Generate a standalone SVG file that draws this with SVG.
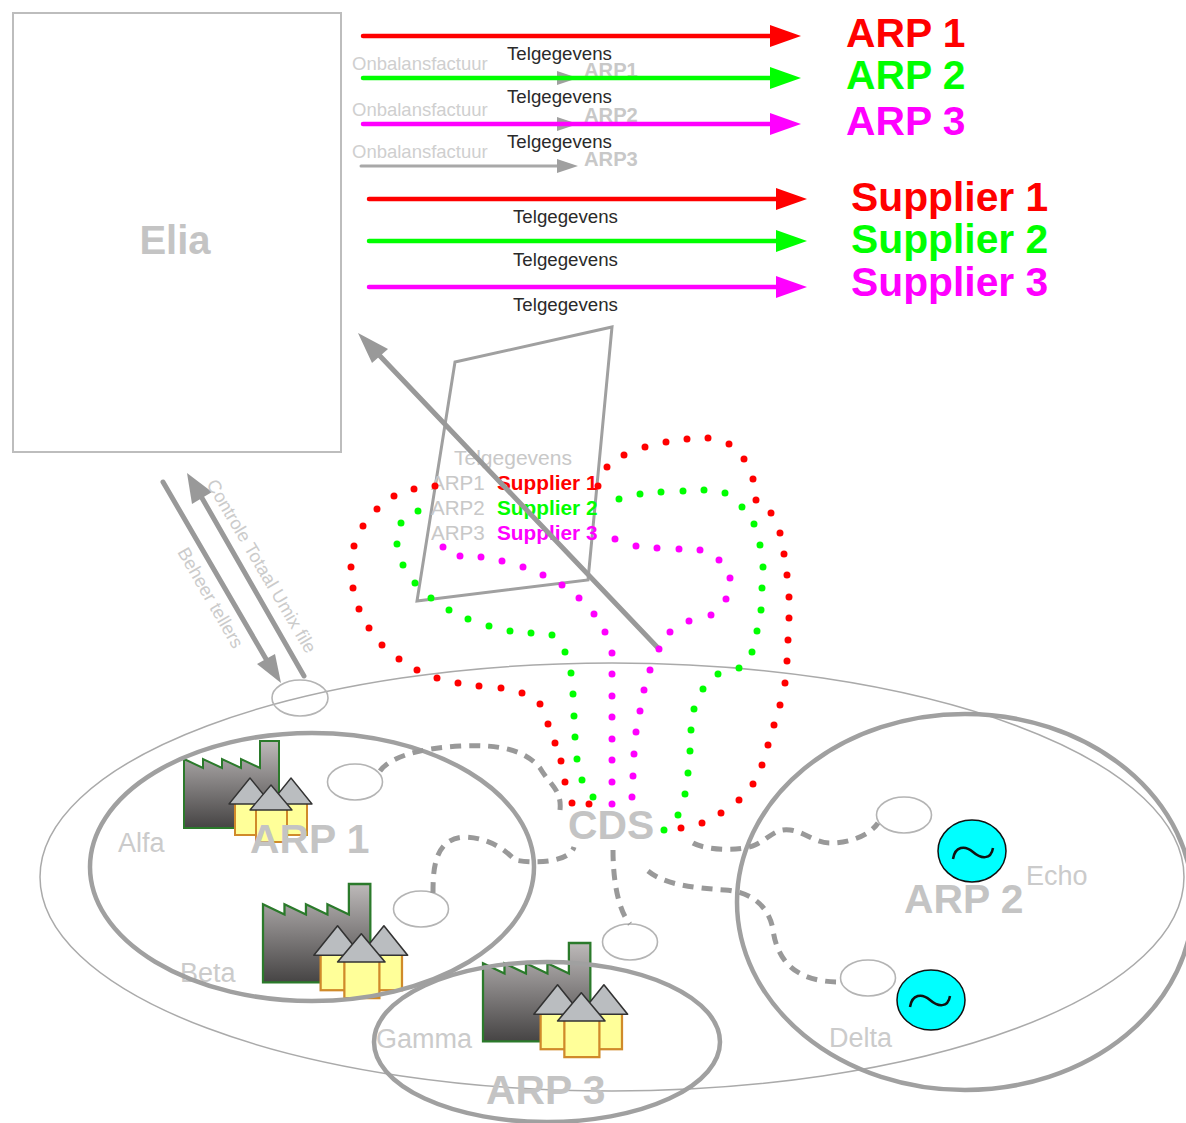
<svg xmlns="http://www.w3.org/2000/svg" xmlns:xlink="http://www.w3.org/1999/xlink" width="1186" height="1123" viewBox="0 0 1186 1123">
<style>
text{font-family:"Liberation Sans",Arial,sans-serif}
.g{fill:#c4c4c4}
.big{font-weight:bold;font-size:40.8px}
.t{font-size:18.7px;fill:#2a2a2a}
.o{font-size:18.5px;fill:#cfcfcf}
.a{font-size:20.2px;font-weight:bold;fill:#c8c8c8}
.m{font-size:20.6px;fill:#c8c8c8}
.s{font-size:20.8px;font-weight:bold}
.n{font-size:27px;fill:#cbcbcb}
.lab{font-size:18.3px;fill:#cbcbcb}
.line{fill:none;stroke-linecap:round}
.dash{fill:none;stroke:#999;stroke-width:5;stroke-dasharray:11 8}
.dots{fill:none;stroke-width:7;stroke-linecap:round}
.meter{fill:#fff;stroke:#b4b4b4;stroke-width:1.6}
.zone{fill:none;stroke:#a0a0a0;stroke-width:4.5}
.gen{fill:#00ffff;stroke:#111;stroke-width:1.5}
</style>
<defs>
<linearGradient id="fg" x1="0" y1="0" x2="0" y2="1"><stop offset="0" stop-color="#bdb9b9"/><stop offset="1" stop-color="#464444"/></linearGradient>
<g id="plant">
<path d="M184,759L203,768V759L222,768V759L241,768V759L260,768V741H279V828H184Z" fill="url(#fg)" stroke="#2b7a2b" stroke-width="2"/>
<g fill="#ffff99" stroke="#d08a2a" stroke-width="2"><rect x="235" y="803" width="30" height="32"/><rect x="278" y="803" width="29" height="32"/></g>
<g fill="#babdc0" stroke="#333" stroke-width="1.4" stroke-linejoin="round"><path d="M250,778L229,804H271Z"/><path d="M291,778L270,804H312Z"/></g>
<rect x="256" y="809" width="31" height="33" fill="#ffff99" stroke="#d08a2a" stroke-width="2"/>
<path d="M271,785L250,810H292Z" fill="#babdc0" stroke="#333" stroke-width="1.4" stroke-linejoin="round"/>
</g>
</defs>
<rect width="1186" height="1123" fill="#fff"/>

<g id="elia"><rect x="13" y="13" width="328" height="439" fill="#fff" stroke="#bdbdbd" stroke-width="2"/><text class="g" x="175" y="254" text-anchor="middle" font-weight="bold" font-size="40">Elia</text></g>

<g id="grid"><ellipse cx="612" cy="877" rx="572" ry="214" fill="none" stroke="#aaa" stroke-width="1.5"/></g>

<g id="plant-alfa"><use xlink:href="#plant"/><text class="n" x="118" y="852">Alfa</text></g>
<g id="plant-beta"><use xlink:href="#plant" transform="translate(263,884) scale(1.13) translate(-184,-741)"/><text class="n" x="180" y="982">Beta</text></g>
<g id="plant-gamma"><use xlink:href="#plant" transform="translate(483,943) scale(1.13) translate(-184,-741)"/><text class="n" x="376" y="1048">Gamma</text></g>

<g id="arp1-zone"><ellipse class="zone" cx="312" cy="867" rx="222" ry="134"/><text class="g big" x="250" y="853">ARP 1</text></g>
<g id="arp2-zone"><ellipse class="zone" cx="965" cy="902" rx="228" ry="188"/><text class="g big" x="904" y="913">ARP 2</text></g>
<g id="arp3-zone"><ellipse class="zone" cx="547" cy="1042" rx="173" ry="80"/><text class="g big" x="486" y="1104">ARP 3</text></g>

<g id="gen-echo"><ellipse class="gen" cx="972" cy="851" rx="34" ry="31"/><path d="M953,859C955,846 965,845 973,852C981,859 991,860 993,848" fill="none" stroke="#111" stroke-width="2.5"/><text class="n" x="1026" y="885">Echo</text></g>
<g id="gen-delta"><ellipse class="gen" cx="931" cy="1000" rx="34" ry="30"/><path d="M910,1007C912,994 922,993 930,1000C938,1007 948,1008 950,996" fill="none" stroke="#111" stroke-width="2.5"/><text class="n" x="829" y="1047">Delta</text></g>

<g id="meters">
<ellipse class="meter" cx="300" cy="698" rx="28" ry="18" fill-opacity="0"/>
<ellipse class="meter" cx="355" cy="782" rx="27.5" ry="18"/>
<ellipse class="meter" cx="421" cy="909" rx="27.5" ry="18"/>
<ellipse class="meter" cx="630" cy="942" rx="27.5" ry="18"/>
<ellipse class="meter" cx="904" cy="815" rx="27.5" ry="18"/>
<ellipse class="meter" cx="868" cy="978" rx="27.5" ry="18"/>
</g>

<g id="telgegevens-note" >
<path d="M455,362L612,327L588,580L417,601Z" fill="none" stroke="#a0a0a0" stroke-width="3"/>
<text class="m" x="454" y="465" font-size="21" style="font-size:21px">Telgegevens</text>
<text class="m" x="431" y="490">ARP1</text><text class="m" x="431" y="515">ARP2</text><text class="m" x="431" y="540">ARP3</text>
<text class="s" x="497" y="490" fill="#ff0000">Supplier 1</text>
<text class="s" x="497" y="515" fill="#00ff00">Supplier 2</text>
<text class="s" x="497" y="540" fill="#ff00ff">Supplier 3</text>
</g>

<g id="connectors">
<g id="dashed">
<path class="dash" d="M380,771C390,757 420,748 460,746C500,744 525,750 540,768C550,785 562,790 560,810"/>
<path class="dash" d="M433,893C433,870 434,838 465,837C490,838 505,850 515,860C535,864 570,862 574,847"/>
<path class="dash" d="M613,850C613,880 618,910 630,924"/>
<path class="dash" d="M693,843C705,850 740,852 755,845C770,838 775,828 790,830C805,832 815,843 830,843C850,843 870,835 878,823"/>
<path class="dash" d="M648,871C665,885 695,888 725,890C755,892 770,910 773,930C778,965 800,982 840,982"/>
</g>
<g id="grey-arrows" fill="#999">
<path class="line" stroke="#999" stroke-width="5" d="M659,649L380,356"/><path d="M358,333L388,349L372,363Z"/>
<path class="line" stroke="#999" stroke-width="5" d="M163,482L266,659"/><path d="M281,683L257,664L275,654Z"/>
<path class="line" stroke="#999" stroke-width="5" d="M304,676L202,498"/><path d="M187,473L212,492L192,504Z"/>
<path class="line" stroke="#a8a8a8" stroke-width="3" d="M365,78H558M365,124H558M361,166H558"/>
<path fill="#a0a0a0" d="M557,71L578,78L557,85ZM557,117L578,124L557,131ZM557,159L578,166L557,173Z"/>
</g>
<g id="dotted">
<path class="dots" stroke="#ff0000" d="M589,804h0M572,803h0M565,782h0M561,761h0M555,743h0M548,724h0M540,704h0M522,693h0M501,688h0M479,686h0M458,683h0M437,678h0M417,670h0M399,659h0M382,645h0M369,628h0M359,609h0M353,588h0M351,567h0M354,546h0M363,526h0M377,509h0M394,496h0M414,489h0M435,486h0M598,486h0M607,467h0M624,455h0M645,447h0M666,442h0M687,439h0M708,438h0M729,444h0M744,459h0M753,479h0M756,500h0M771,513h0M780,533h0M784,554h0M787,575h0M789,597h0M789,618h0M788,640h0M787,661h0M785,683h0M780,705h0M774,725h0M768,745h0M762,765h0M753,784h0M739,800h0M721,813h0M702,823h0M681,828h0"/>
<path class="dots" stroke="#00ff00" d="M664,830h0M678,815h0M685,794h0M688,773h0M690,751h0M691,730h0M694,709h0M703,689h0M718,674h0M739,668h0M752,652h0M757,631h0M761,610h0M762,588h0M763,567h0M760,545h0M754,524h0M742,507h0M725,493h0M704,490h0M683,491h0M661,492h0M640,494h0M619,499h0M418,511h0M401,523h0M397,544h0M403,565h0M415,583h0M431,598h0M449,610h0M468,619h0M489,626h0M510,631h0M531,633h0M552,635h0M565,652h0M571,673h0M573,694h0M574,716h0M575,737h0M577,759h0M582,780h0M593,797h0"/>
<path class="dots" stroke="#ff00ff" d="M443,547h0M460,556h0M481,557h0M502,561h0M523,567h0M543,575h0M562,585h0M579,598h0M594,614h0M605,632h0M612,653h0M612,674h0M612,696h0M612,717h0M612,739h0M612,760h0M612,782h0M612,804h0M615,539h0M636,546h0M657,548h0M679,549h0M700,550h0M719,560h0M730,578h0M726,599h0M711,615h0M689,621h0M670,632h0M659,649h0M650,670h0M644,690h0M640,711h0M636,732h0M634,754h0M633,776h0M632,797h0"/>
</g>
</g>

<g id="top-grey-labels">
<text class="o" x="352" y="70">Onbalansfactuur</text><text class="o" x="352" y="116">Onbalansfactuur</text><text class="o" x="352" y="158">Onbalansfactuur</text>
<text class="a" x="584" y="77">ARP1</text><text class="a" x="584" y="122">ARP2</text><text class="a" x="584" y="166">ARP3</text>
</g>

<g id="flows">
<path class="line" stroke="#ff0000" stroke-width="4.5" d="M363,36H772"/><path fill="#ff0000" d="M770,25L801,36L770,47Z"/>
<path class="line" stroke="#00ff00" stroke-width="4.5" d="M363,78H772"/><path fill="#00ff00" d="M770,67L801,78L770,89Z"/>
<path class="line" stroke="#ff00ff" stroke-width="4.5" d="M363,124H772"/><path fill="#ff00ff" d="M770,113L801,124L770,135Z"/>
<path class="line" stroke="#ff0000" stroke-width="4.5" d="M369,199H778"/><path fill="#ff0000" d="M776,188L807,199L776,210Z"/>
<path class="line" stroke="#00ff00" stroke-width="4.5" d="M369,241H778"/><path fill="#00ff00" d="M776,230L807,241L776,252Z"/>
<path class="line" stroke="#ff00ff" stroke-width="4.5" d="M369,287H778"/><path fill="#ff00ff" d="M776,276L807,287L776,298Z"/>
<text class="t" x="507" y="60">Telgegevens</text><text class="t" x="507" y="103">Telgegevens</text><text class="t" x="507" y="148">Telgegevens</text>
<text class="t" x="513" y="223">Telgegevens</text><text class="t" x="513" y="266">Telgegevens</text><text class="t" x="513" y="311">Telgegevens</text>
</g>

<g id="targets">
<text class="big" x="846" y="47" fill="#ff0000">ARP 1</text>
<text class="big" x="846" y="89" fill="#00ff00">ARP 2</text>
<text class="big" x="846" y="135" fill="#ff00ff">ARP 3</text>
<text class="big" x="851" y="211" fill="#ff0000">Supplier 1</text>
<text class="big" x="851" y="253" fill="#00ff00">Supplier 2</text>
<text class="big" x="851" y="296" fill="#ff00ff">Supplier 3</text>
</g>

<g id="cds"><text class="g big" x="568" y="839">CDS</text></g>
<g id="side-labels">
<text class="lab" transform="translate(206,484) rotate(59.5)">Controle Totaal Umix file</text>
<text class="lab" transform="translate(177,552) rotate(60)">Beheer tellers</text>
</g>
</svg>
